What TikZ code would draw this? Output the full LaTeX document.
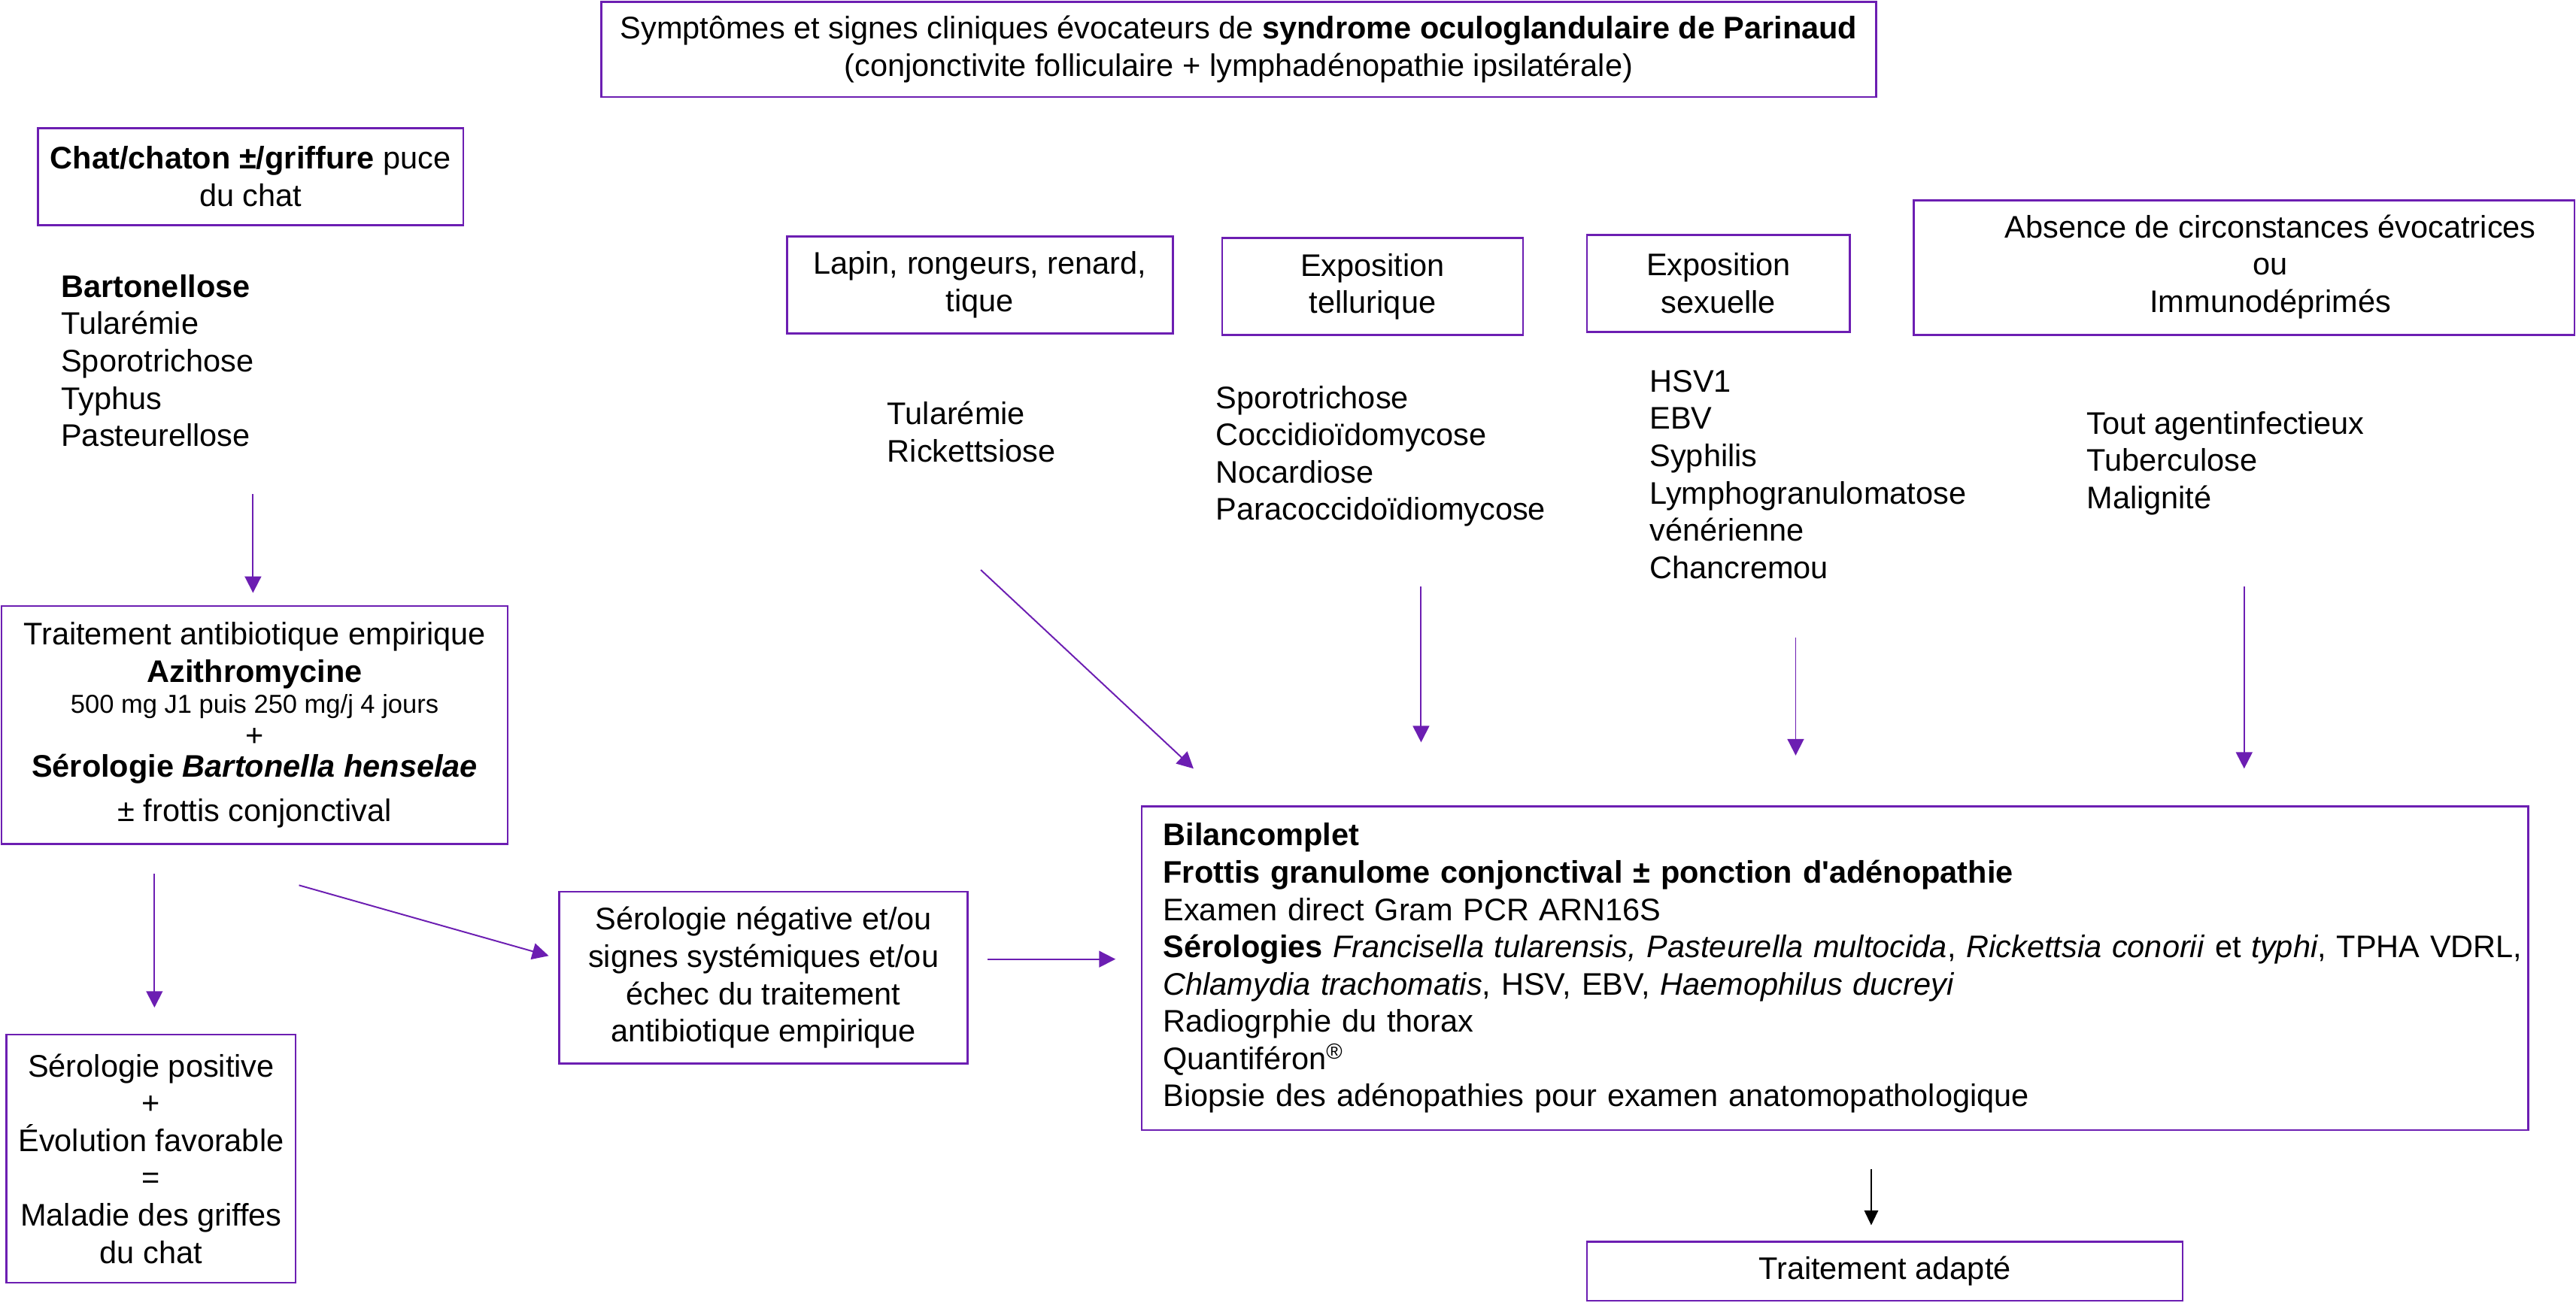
\documentclass[tikz,border=0pt]{standalone}
\usepackage{fontspec}
\setmainfont{Liberation Sans}
\newfontfamily\nolig{Liberation Sans}
\usetikzlibrary{arrows.meta,calc}
\definecolor{pur}{RGB}{108,30,178}
\begin{document}
\begin{tikzpicture}[x=1pt,y=-1pt,
  box/.style={draw=pur, line width=1.2pt, inner sep=0pt, align=center, font=\fontsize{19}{22.7}\selectfont},
  lst/.style={align=left, anchor=north west, inner sep=0pt, font=\fontsize{19}{22.7}\selectfont},
  arr/.style={draw=pur, line width=0.9pt, -{Triangle[length=10pt,width=10pt]}},
  barr/.style={draw=black, line width=0.7pt, -{Triangle[length=9pt,width=8.5pt]}}
]
\useasboundingbox (0,0) rectangle (1568,793);

% boxes
\node[box, minimum width=776pt, minimum height=58pt] (top) at (754,30)
  {Symptômes et signes cliniques évocateurs de \textbf{syndrome oculoglandulaire de Parinaud}\\
   (conjonctivite folliculaire + lymphadénopathie ipsilatérale)};
\node[box, minimum width=259pt, minimum height=59pt] (chat) at (152.5,107.5)
  {\textbf{Chat/chaton ±/griffure} puce\\du chat};
\node[box, minimum width=308pt, minimum height=145pt] (trait) at (155,441.5)
  {Traitement antibiotique empirique\\
   \textbf{Azithromycine}\\[-3.7pt]
   {\fontsize{15.8}{19}\selectfont 500 mg J1 puis 250 mg/j 4 jours}\\[-2.7pt]
   +\\[-3.7pt]
   \textbf{Sérologie \textit{Bartonella henselae}}\\[4.3pt]
   ± frottis conjonctival};
\node[box, minimum width=176pt, minimum height=151pt] (pos) at (92,705.5)
  {Sérologie positive\\+\\Évolution favorable\\=\\Maladie des griffes\\du chat};
\node[box, minimum width=235pt, minimum height=59pt] (lapin) at (596.5,173.5)
  {Lapin, rongeurs, renard,\\tique};
\node[box, minimum width=183pt, minimum height=59pt] (tell) at (835.5,174.5)
  {Exposition\\tellurique};
\node[box, minimum width=160pt, minimum height=59pt] (sex) at (1046,172.5)
  {Exposition\\sexuelle};
\node[box, minimum width=402pt, minimum height=82pt] (abs) at (1366,163)
  {\hspace*{32pt}\begin{tabular}{@{}c@{}}Absence de circonstances évocatrices\\ou\\Immunodéprimés\end{tabular}};
\node[box, minimum width=248.5pt, minimum height=104.6pt] (neg) at (464.75,595.3)
  {Sérologie négative et/ou\\signes systémiques et/ou\\échec du traitement\\antibiotique empirique};
\node[box, minimum width=844pt, minimum height=197pt, text width=818pt, inner xsep=13pt, align=left] (bilan) at (1117,589.5)
  {\textbf{Bilancomplet}\\
   \textbf{Frottis granulome conjonctival ± ponction d{\nolig '}adénopathie}\\
   Examen direct Gram PCR ARN16S\\
   \mbox{\textbf{Sérologies} \textit{Francisella tularensis, Pasteurella multocida}, \textit{Rickettsia conorii} et \textit{typhi}, TPHA VDRL,}\\
   \textit{Chlamydia trachomatis}, HSV, EBV, \textit{Haemophilus ducreyi}\\
   Radiogrphie du thorax\\
   Quantiféron\textsuperscript{®}\\
   Biopsie des adénopathies pour examen anatomopathologique};
\node[box, minimum width=362.6pt, minimum height=36pt] (adapt) at (1147.3,774)
  {Traitement adapté};

% lists
\node[lst] (bart) at (37,164.9)
  {\strut\textbf{Bartonellose}\\Tularémie\\Sporotrichose\\Typhus\\Pasteurellose};
\node[lst] (tul) at (540,242.3)
  {\strut Tularémie\\Rickettsiose};
\node[lst] (spo) at (740,232.5)
  {\strut Sporotrichose\\Coccidioïdomycose\\Nocardiose\\Paracoccidoïdiomycose};
\node[lst] (hsv) at (1004,222.6)
  {\strut HSV1\\EBV\\Syphilis\\Lymphogranulomatose\\vénérienne\\Chancremou};
\node[lst] (tout) at (1270,248.2)
  {\strut Tout agentinfectieux\\Tuberculose\\Malignité};

% connector end points
\coordinate (a1s) at (154,301);   \coordinate (a1e) at (154,361);
\coordinate (a2s) at (94,532);    \coordinate (a2e) at (94,613.5);
\coordinate (a3s) at (182,539);   \coordinate (a3e) at (334,582);
\coordinate (a4s) at (601,584);   \coordinate (a4e) at (679,584);
\coordinate (a5s) at (597,347);   \coordinate (a5e) at (726.5,468);
\coordinate (a6s) at (865,357);   \coordinate (a6e) at (865,452);
\coordinate (a7s) at (1093,388);  \coordinate (a7e) at (1093,460);
\coordinate (a8s) at (1366,357);  \coordinate (a8e) at (1366,468);
\coordinate (a9s) at (1139,712);  \coordinate (a9e) at (1139,746);

\draw[arr] (a1s) -- (a1e);
\draw[arr] (a2s) -- (a2e);
\draw[arr] (a3s) -- (a3e);
\draw[arr] (a4s) -- (a4e);
\draw[arr] (a5s) -- (a5e);
\draw[arr] (a6s) -- (a6e);
\draw[arr] (a7s) -- (a7e);
\draw[arr] (a8s) -- (a8e);
\draw[barr] (a9s) -- (a9e);
\end{tikzpicture}
\end{document}
